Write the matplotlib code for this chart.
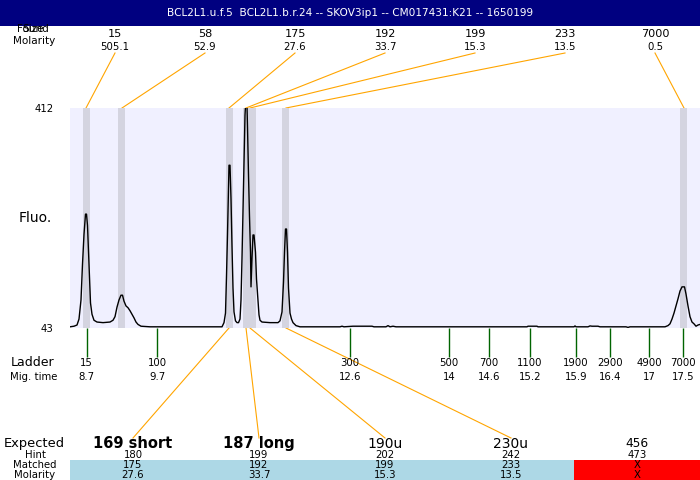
import matplotlib
matplotlib.use('Agg')
import matplotlib.pyplot as plt
from matplotlib.patches import Rectangle

title = "BCL2L1.u.f.5  BCL2L1.b.r.24 -- SKOV3ip1 -- CM017431:K21 -- 1650199"

# electropherogram trace: scan position / fluorescence
trace_x = [70, 74, 77, 79, 81, 82.5, 84, 85.5, 86.5, 87.5, 88.5, 89.5, 90.5, 92, 94, 97, 103, 110,
           113, 115, 117, 119, 121, 122.5, 124, 126, 128, 130, 132, 134, 136, 138, 141, 150, 200,
           222, 224, 225.5, 226.5, 227.5, 228.5, 229, 230, 231, 232, 233, 234, 235.5, 237, 238.5,
           240, 241, 242, 243, 244, 245, 246, 246.8, 247.5, 248.5, 249.5, 250.5, 251, 252, 253,
           254, 255.5, 256.5, 258, 259, 260, 262, 270, 278, 280, 282, 283.5, 284.5, 285.5, 286.5,
           287.5, 288.5, 290, 291.5, 293, 296, 300, 340, 342, 344, 353, 372, 374, 386, 388, 390,
           393, 396, 527, 528, 537, 538, 574, 575, 576, 588, 590, 592, 598, 600, 626, 628, 630,
           665, 668, 670, 672, 674, 676, 678, 680, 682, 684.5, 686, 688, 690, 692, 694, 696, 698, 700]
trace_y = [45, 46, 48, 58, 90, 150, 200, 234, 234, 215, 170, 120, 85, 66, 56, 53, 52, 53,
           56, 62, 78, 90, 98, 98, 88, 80, 77, 72, 66, 60, 53, 49, 46, 45, 45,
           45, 52, 68, 130, 200, 280, 316, 316, 260, 180, 110, 70, 55, 52, 52,
           58, 90, 160, 240, 320, 400, 430, 430, 380, 300, 230, 170, 112, 160, 199,
           199, 170, 125, 90, 65, 56, 53, 52, 52, 55, 70, 120, 170, 209, 209,
           170, 110, 68, 58, 52, 47, 45, 45, 46, 45, 46, 46, 45, 45, 47, 45,
           46, 45, 45, 46, 46, 45, 45, 46.5, 45, 45, 46.5, 46, 46, 45, 45, 44, 45,
           45, 47, 50, 58, 68, 80, 92, 105, 112, 112, 100, 80, 62, 53, 50, 46, 48, 49]

# found peaks
found_size = [15, 58, 175, 192, 199, 233, 7000]
found_molarity = [505.1, 52.9, 27.6, 33.7, 15.3, 13.5, 0.5]
found_pos = [86, 122, 229, 246, 250, 286, 684]
win_start = [83, 118, 226, 243, 282, 680]
win_end = [90, 125, 233, 256, 289, 687]

# ladder
ladder_size = [15, 100, 300, 500, 700, 1100, 1900, 2900, 4900, 7000]
ladder_time = [8.7, 9.7, 12.6, 14, 14.6, 15.2, 15.9, 16.4, 17, 17.5]
ladder_pos = [86.5, 157, 350, 449, 489, 530, 576, 610, 649, 683]

# expected products
expected = ['169 short', '187 long', '190u', '230u', '456']
hint = [180, 199, 202, 242, 473]
matched_idx = [2, 3, 4, 5, None]   # index in found peaks

exp_size = [10.5, 10.5, 10, 10, 8.7]
exp_weight = ['bold', 'bold', 'normal', 'normal', 'normal']

orange = '#FFA500'
green = '#006400'
small = 7.3

fig = plt.figure(figsize=(7, 4.8), dpi=100)

ov = fig.add_axes([0, 0, 1, 1])
ov.set_xlim(0, 700)
ov.set_ylim(480, 0)
ov.axis('off')

# title bar
ov.add_patch(Rectangle((0, 0), 700, 26, color='#000080', lw=0))
ov.text(350, 13, title, color='white', ha='center', va='center', fontsize=7.6)

# electropherogram
ax = fig.add_axes([70/700, 152/480, 630/700, 220/480])
ax.set_facecolor('#F0F0FF')
for s, e in zip(win_start, win_end):
    ax.axvspan(s, e, color='#D4D4E0', lw=0)
ax.plot(trace_x, trace_y, color='black', lw=1.0)
ax.set_xlim(70, 700)
ax.set_ylim(43, 412)
for sp in ax.spines.values():
    sp.set_visible(False)
ax.set_xticks([])
ax.set_yticks([43, 412])
ax.tick_params(axis='y', length=0, pad=12, labelsize=small)
ax.set_ylabel('Fluo.', rotation=0, fontsize=10, va='center', ha='center')
ax.yaxis.set_label_coords(-35/630, 0.5)

# found peak labels
ov.text(33, 28.5, 'Found', ha='center', va='center', fontsize=7.5)
ov.text(33, 28.5, 'Size', ha='center', va='center', fontsize=7.5)
ov.text(34, 40.7, 'Molarity', ha='center', va='center', fontsize=7.5)
for i, (sz, mol) in enumerate(zip(found_size, found_molarity)):
    xc = 70 + 90 * (i + 0.5)
    ov.text(xc, 34, str(sz), ha='center', va='center', fontsize=8.1)
    ov.text(xc, 46.5, str(mol), ha='center', va='center', fontsize=small)
    ov.plot([xc, found_pos[i]], [53, 108], color=orange, lw=0.8)

# ladder
ov.vlines(ladder_pos, 328, 357, color=green, lw=1)
ov.text(33, 363, 'Ladder', ha='center', va='center', fontsize=9)
ov.text(34, 377, 'Mig. time', ha='center', va='center', fontsize=small)
for p, s, t in zip(ladder_pos, ladder_size, ladder_time):
    ov.text(p, 363.3, str(s), ha='center', va='center', fontsize=small)
    ov.text(p, 377.3, f'{t:g}', ha='center', va='center', fontsize=small)

# expected table
ov.text(34, 443, 'Expected', ha='center', va='center', fontsize=9.4)
ov.text(35, 455, 'Hint', ha='center', va='center', fontsize=small)
ov.text(35, 465.5, 'Matched', ha='center', va='center', fontsize=small)
ov.text(35, 474.5, 'Molarity', ha='center', va='center', fontsize=small)
for k, name in enumerate(expected):
    x0 = 70 + 126 * k
    xc = x0 + 63
    idx = matched_idx[k]
    ov.add_patch(Rectangle((x0, 460), 126, 20, color='#ADD8E6' if idx is not None else '#FF0000', lw=0))
    ov.text(xc, 443.5, name, ha='center', va='center', fontsize=exp_size[k], fontweight=exp_weight[k])
    ov.text(xc, 455, str(hint[k]), ha='center', va='center', fontsize=small)
    if idx is not None:
        ov.plot([found_pos[idx], xc], [328, 438], color=orange, lw=0.8)
        m1, m2 = str(found_size[idx]), str(found_molarity[idx])
    else:
        m1, m2 = 'X', 'X'
    ov.text(xc, 465.5, m1, ha='center', va='center', fontsize=small)
    ov.text(xc, 474.5, m2, ha='center', va='center', fontsize=small)

fig.savefig('out.png', dpi=100)
